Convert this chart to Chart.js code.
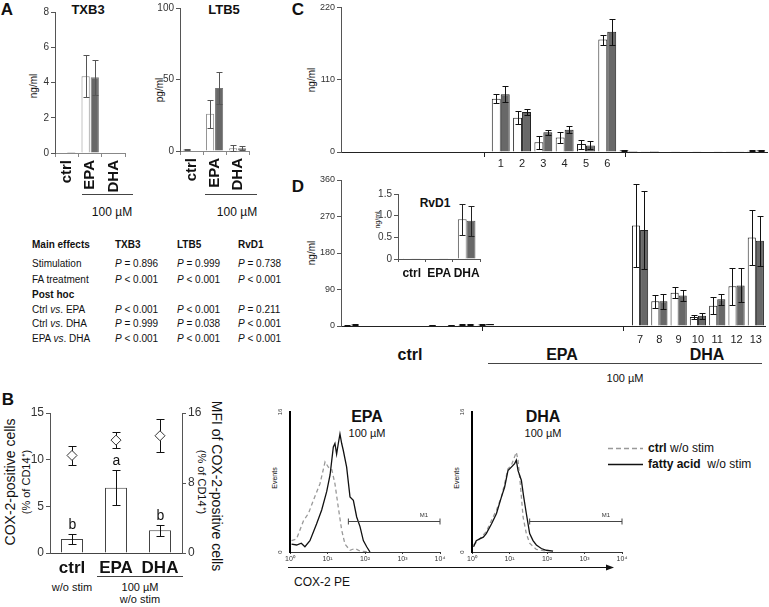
<!DOCTYPE html>
<html>
<head>
<meta charset="utf-8">
<script src="https://cdn.jsdelivr.net/npm/chart.js@4.4.1/dist/chart.umd.min.js"></script>
<style>
  body { margin: 0; background: #fff; font-family: "Liberation Sans", Arial, sans-serif; color: #111; }
  #page { position: relative; width: 769px; height: 607px; overflow: hidden; }
  .cv { position: absolute; }
  .t { position: absolute; white-space: nowrap; line-height: 1; transform: translate(-50%, -50%); }
  .l { position: absolute; white-space: nowrap; line-height: 1; transform: translate(0, -50%); }
  .up { transform: translate(-50%, -50%) rotate(-90deg); }
  .down { transform: translate(-50%, -50%) rotate(90deg); }
  .hl { position: absolute; height: 0; border-top: 1px solid #444; }
  .b { font-weight: bold; }
</style>
</head>
<body>
<div id="page">
  <!-- panel letters -->
  <div class="t b" style="left:7px;top:9px;font-size:17px">A</div>
  <div class="t b" style="left:8px;top:399px;font-size:17px">B</div>
  <div class="t b" style="left:298px;top:9px;font-size:17px">C</div>
  <div class="t b" style="left:298px;top:186px;font-size:17px">D</div>

  <!-- A -->
  <div class="t b" style="left:88px;top:9px;font-size:13px">TXB3</div>
  <div class="t b" style="left:224px;top:9px;font-size:13px">LTB5</div>
  <div class="t up" style="left:34px;top:86px;font-size:10px">ng/ml</div>
  <div class="t up" style="left:160px;top:90px;font-size:10px">pg/ml</div>
  <div class="hl" style="left:82px;top:194px;width:51px"></div>
  <div class="hl" style="left:205px;top:194px;width:52px"></div>
  <div class="t" style="left:112px;top:212px;font-size:12px">100 µM</div>
  <div class="t" style="left:237px;top:212px;font-size:12px">100 µM</div>
  <div id="table"></div>

  <!-- B -->
  <div class="t up" style="left:10px;top:482px;font-size:14px">COX-2-positive cells</div>
  <div class="t up" style="left:26px;top:482px;font-size:11px">(% of CD14⁺)</div>
  <div class="t down" style="left:217px;top:486px;font-size:14px">MFI of COX-2-positive cells</div>
  <div class="t down" style="left:201px;top:482px;font-size:11px">(% of CD14⁺)</div>
  <div class="hl" style="left:97px;top:576px;width:86px"></div>
  <div class="t" style="left:72px;top:587px;font-size:11px">w/o stim</div>
  <div class="t" style="left:140px;top:587px;font-size:11px">100 µM</div>
  <div class="t" style="left:140px;top:599px;font-size:11px">w/o stim</div>

  <!-- flow histograms -->
  <div class="t b" style="left:367px;top:417px;font-size:16px">EPA</div>
  <div class="t" style="left:367px;top:433px;font-size:11px">100 µM</div>
  <div class="t b" style="left:543px;top:417px;font-size:16px">DHA</div>
  <div class="t" style="left:543px;top:433px;font-size:11px">100 µM</div>
  <div class="t up" style="left:274px;top:478px;font-size:7px">Events</div>
  <div class="t up" style="left:456px;top:478px;font-size:7px">Events</div>
  <svg style="position:absolute;left:0;top:0" width="769" height="607">
    <line x1="288" y1="567.5" x2="608" y2="567.5" stroke="#111" stroke-width="1"/>
    <polygon points="614,567.5 606,564.5 606,570.5" fill="#111"/>
    <line x1="608" y1="448.5" x2="643" y2="448.5" stroke="#999" stroke-width="1.3" stroke-dasharray="5,3"/>
    <line x1="608" y1="464.5" x2="643" y2="464.5" stroke="#111" stroke-width="1.3"/>
  </svg>
  <div class="t" style="left:322px;top:582px;font-size:12px">COX-2 PE</div>
  <div class="l" style="left:648px;top:448px;font-size:12px"><span class="b">ctrl</span> w/o stim</div>
  <div class="l" style="left:648px;top:464px;font-size:12px"><span class="b">fatty acid</span>&nbsp; w/o stim</div>

  <!-- C / D -->
  <div class="t up" style="left:312px;top:80px;font-size:10px">ng/ml</div>
  <div class="t up" style="left:312px;top:253px;font-size:10px">ng/ml</div>
  <div class="t b" style="left:435px;top:203px;font-size:12px">RvD1</div>
  <div class="t up" style="left:377px;top:220px;font-size:7px">ng/ml</div>
  <div class="t b" style="left:410px;top:355px;font-size:16px">ctrl</div>
  <div class="t b" style="left:562px;top:355px;font-size:16px">EPA</div>
  <div class="t b" style="left:707px;top:355px;font-size:16px">DHA</div>
  <div class="hl" style="left:488px;top:363px;width:274px"></div>
  <div class="t" style="left:625px;top:378px;font-size:11px">100 µM</div>
</div>

<script>
var fontFamily = '"Liberation Sans", Arial, sans-serif';

// ---------- data ----------
// Panel A (white bars = w/o stim, grey bars = stim)
var aCats = ['ctrl', 'EPA', 'DHA'];
var txb3NoStim = [0, 4.35, 0.03];
var txb3NoStimErr = [0, 1.2, 0];
var txb3Stim = [0.05, 4.3, 0.03];
var txb3StimErr = [0, 1.0, 0];
var ltb5NoStim = [1, 26, 2];
var ltb5NoStimErr = [0.5, 10, 2];
var ltb5Stim = [0, 44, 2];
var ltb5StimErr = [0, 11, 1.5];

// ANOVA table
var tableHead = ['Main effects', 'TXB3', 'LTB5', 'RvD1'];
var tableRows = [
    ['Stimulation', '= 0.896', '= 0.999', '= 0.738'],
    ['FA treatment', '< 0.001', '< 0.001', '< 0.001'],
    ['Post hoc'],
    ['Ctrl <i>vs</i>. EPA', '< 0.001', '< 0.001', '= 0.211'],
    ['Ctrl <i>vs</i>. DHA', '= 0.999', '= 0.038', '< 0.001'],
    ['EPA <i>vs</i>. DHA', '< 0.001', '< 0.001', '< 0.001']
];

// Panel B
var bCats = ['ctrl', 'EPA', 'DHA'];
var coxPositive = [1.5, 7.0, 2.45];
var coxPositiveErr = [0.5, 1.9, 0.6];
var coxLetters = ['b', 'a', 'b'];
var coxMfi = [11.15, 12.9, 13.4];
var coxMfiErr = [1.1, 0.95, 1.9];

// Flow histograms: fluorescence (log) and events
var decadeLabels = ['10⁰', '10¹', '10²', '10³', '10⁴'];
var decades = [1, 10, 100, 1000, 10000];
var epaCtrlFl = [1.1, 1.5, 2.3, 3.1, 4.2, 6.3, 8.6, 10.5, 12.9, 15.8, 19.4, 23.9, 29.2, 39.8, 54, 74, 136];
var epaCtrlEv = [1.3, 1.5, 3.6, 4.4, 5.9, 7.8, 10.3, 9.7, 9.5, 7.8, 5.1, 2.5, 0.9, 0.2, 0.4, 0.1, 0];
var epaFaFl = [1.1, 1.5, 2.0, 2.5, 3.4, 5.1, 7.0, 9.5, 11.7, 14.3, 15.8, 17.5, 19.4, 21.5, 23.9, 26.4, 32.4, 39.8, 48.9, 60, 73.6, 90.3, 111, 136];
var epaFaEv = [0.9, 0.8, 1.0, 0.6, 1.3, 3.2, 4.8, 6.9, 8.8, 12.0, 12.4, 11.2, 12.4, 13.5, 12.4, 11.6, 9.7, 6.3, 5.9, 4.0, 2.9, 1.3, 0.6, 0];
var dhaCtrlFl = [1.1, 1.6, 2.4, 3.3, 4.5, 6.1, 7.4, 9.1, 11.2, 13.7, 15.2, 16.9, 19.4, 23.0, 28.1, 34.5, 52, 96];
var dhaCtrlEv = [0.8, 1.5, 2.3, 3.6, 4.8, 6.3, 7.8, 9.5, 9.9, 10.9, 11.4, 10.5, 7.8, 4.0, 2.1, 1.0, 0.3, 0.1];
var dhaFaFl = [1.1, 1.3, 1.6, 2.0, 2.4, 3.3, 4.5, 6.1, 7.4, 9.1, 11.2, 13.7, 15.2, 16.9, 20.7, 23.9, 28.1, 34.5, 42.4, 52, 70.6, 96, 145];
var dhaFaEv = [0.6, 1.3, 1.5, 1.7, 2.1, 3.2, 4.4, 6.3, 7.4, 9.3, 9.7, 10.1, 10.5, 9.3, 8.2, 6.3, 4.4, 2.1, 1.3, 0.8, 0.4, 0.2, 0.1];
var epaGate = 36;
var dhaGate = 34.5;
var gateEvents = 3.5;

// Panel C: ctrl slots 0-6, EPA slots 7-12 (mediators 1-6), DHA slots 13-19
var cLabels = ['', '', '', '', '', '', '', '1', '2', '3', '4', '5', '6', '', '', '', '', '', '', ''];
var cNoStim = [0, 0, 0, 0.6, 0, 0.8, 0, 81, 52, 15, 22, 12, 171, 2.5, 1, 0.8, 0.8, 0.6, 0.5, 2];
var cNoStimErr = [0, 0, 0, 0, 0, 0, 0, 7, 10, 10, 8, 7, 7.5, 0.5, 0, 0, 0, 0, 0, 0.5];
var cStim = [0, 0, 0, 0.6, 0, 0.8, 0, 88, 61, 30, 34, 10, 183, 1.5, 1.5, 1, 1, 1, 0.5, 2.5];
var cStimErr = [0, 0, 0, 0, 0, 0, 0, 12, 4, 4, 5, 6, 20, 0, 0, 0, 0, 0, 0, 0.5];

// Panel D: ctrl slots 0-6, EPA slots 7-14, DHA slots 15-21 (mediators 7-13)
var dLabels = ['', '', '', '', '', '', '', '', '', '', '', '', '', '', '', '7', '8', '9', '10', '11', '12', '13'];
var dNoStim = [2, 1, 1, 0, 1.5, 1.5, 3, 4, 0, 0, 0, 1, 1, 1, 0, 248, 61, 82, 22, 50, 98, 218];
var dNoStimErr = [1, 0, 0, 0, 0, 0, 1, 0.5, 0, 0, 0, 0, 0, 0, 0, 103, 16, 13, 4, 21, 45, 67];
var dStim = [4, 1, 1, 0, 2, 2, 4, 5, 0, 0, 0, 1, 1, 1, 0, 237, 61, 75, 25, 66, 100, 210];
var dStimErr = [1, 0, 0, 0, 0.5, 0.5, 1, 0.5, 0, 0, 0, 0, 0, 0, 0, 97, 19, 13, 8, 14, 42, 61];

// Inset RvD1
var rvd1Cats = ['ctrl', 'EPA', 'DHA'];
var rvd1NoStim = [0.02, 0.01, 0.92];
var rvd1NoStimErr = [0, 0, 0.36];
var rvd1Stim = [0.02, 0.02, 0.88];
var rvd1StimErr = [0, 0, 0.34];

// ---------- table ----------
var colX = [32, 115, 177, 238];
var rowY = [264, 280, 295, 310, 324, 339];
var tableHtml = '';
for (var h = 0; h < tableHead.length; h++) {
    tableHtml += '<div class="l b" style="left:' + colX[h] + 'px;top:245px;font-size:10px">' + tableHead[h] + '</div>';
}
for (var r = 0; r < tableRows.length; r++) {
    var row = tableRows[r];
    var bold = row.length == 1 ? ' b' : '';
    tableHtml += '<div class="l' + bold + '" style="left:32px;top:' + rowY[r] + 'px;font-size:10px">' + row[0] + '</div>';
    for (var c = 1; c < row.length; c++) {
        tableHtml += '<div class="l" style="left:' + colX[c] + 'px;top:' + rowY[r] + 'px;font-size:10px"><i>P</i> ' + row[c] + '</div>';
    }
}
document.getElementById('table').innerHTML = tableHtml;

// ---------- chart setup ----------
Chart.defaults.font.family = fontFamily;
Chart.defaults.color = '#222';
Chart.defaults.animation = false;
Chart.defaults.plugins.legend.display = false;
Chart.defaults.plugins.tooltip.enabled = false;

// Draws error bars from dataset.errors
function drawErrors(chart, index, behind) {
    var ds = chart.data.datasets[index];
    if (!ds.errors || !!ds.errorsBehind != behind) return;
    var meta = chart.getDatasetMeta(index);
    var yScale = chart.scales[meta.yAxisID];
    var ctx = chart.ctx;
    var cap = ds.capWidth || 3;
    ctx.save();
    ctx.strokeStyle = ds.errorColor || '#111';
    ctx.lineWidth = 1;
    meta.data.forEach(function(el, j) {
        var e = ds.errors[j];
        if (!e) return;
        var x = Math.round(el.x) + 0.5;
        var top = Math.round(yScale.getPixelForValue(ds.data[j] + e)) + 0.5;
        var bot = Math.round(yScale.getPixelForValue(Math.max(ds.data[j] - e, 0))) + 0.5;
        ctx.beginPath();
        ctx.moveTo(x, top); ctx.lineTo(x, bot);
        ctx.moveTo(x - cap, top); ctx.lineTo(x + cap, top);
        ctx.moveTo(x - cap, bot); ctx.lineTo(x + cap, bot);
        ctx.stroke();
        if (ds.letters) {
            ctx.fillStyle = '#111';
            ctx.font = '14px ' + fontFamily;
            ctx.textAlign = 'center';
            ctx.textBaseline = 'bottom';
            ctx.fillText(ds.letters[j], x, top - 2);
        }
    });
    ctx.restore();
}
var errorBars = {
    id: 'errorBars',
    beforeDatasetDraw: function(chart, args) { drawErrors(chart, args.index, true); },
    afterDatasetDraw: function(chart, args) { drawErrors(chart, args.index, false); }
};

// Small tick marks between treatment groups (C and D)
var groupTicks = {
    id: 'groupTicks',
    afterDraw: function(chart, args, opts) {
        if (!opts.at) return;
        var x = chart.scales.x, ctx = chart.ctx;
        ctx.save();
        ctx.strokeStyle = '#222';
        ctx.lineWidth = 1;
        opts.at.forEach(function(v) {
            var px = Math.round(x.getPixelForValue(v)) + 0.5;
            ctx.beginPath();
            ctx.moveTo(px, x.top);
            ctx.lineTo(px, x.top + 5);
            ctx.stroke();
        });
        ctx.restore();
    }
};

// Flow histogram decorations: rotated y labels and the M1 gate
var flowDecor = {
    id: 'flowDecor',
    afterDraw: function(chart, args, opts) {
        var ctx = chart.ctx, x = chart.scales.x, y = chart.scales.y;
        ctx.save();
        ctx.fillStyle = '#333';
        ctx.font = '6px ' + fontFamily;
        ctx.textAlign = 'center';
        ctx.textBaseline = 'middle';
        [0, 16].forEach(function(v) {
            ctx.save();
            ctx.translate(x.left - 10, y.getPixelForValue(v));
            ctx.rotate(-Math.PI / 2);
            ctx.fillText(String(v), 0, 0);
            ctx.restore();
        });
        var gy = Math.round(y.getPixelForValue(opts.events)) + 0.5;
        var gx0 = x.getPixelForValue(opts.from);
        var gx1 = x.getPixelForValue(opts.to);
        ctx.strokeStyle = '#444';
        ctx.lineWidth = 1;
        ctx.beginPath();
        ctx.moveTo(gx0, gy); ctx.lineTo(gx1, gy);
        ctx.moveTo(gx0, gy - 3); ctx.lineTo(gx0, gy + 3);
        ctx.moveTo(gx1, gy - 3); ctx.lineTo(gx1, gy + 3);
        ctx.stroke();
        ctx.fillText('M1', gx1 - 16, gy - 6);
        ctx.restore();
    }
};

function place(left, top, w, h) {
    var c = document.createElement('canvas');
    c.width = w;
    c.height = h;
    c.className = 'cv';
    c.style.left = left + 'px';
    c.style.top = top + 'px';
    document.getElementById('page').appendChild(c);
    return c;
}

function yAxis(max, step, width, size, extra) {
    var ax = {
        min: 0, max: max,
        ticks: { stepSize: step, font: { size: size }, padding: 2, color: '#333' },
        grid: { display: true, drawOnChartArea: false, drawTicks: true, tickLength: 4, color: '#555' },
        border: { color: '#555' },
        afterFit: function(s) { s.width = width; }
    };
    for (var k in extra) ax[k] = extra[k];
    return ax;
}

// Bar pair chart: white (w/o stim) and grey (stim) bars with error bars
function pairChart(canvas, labels, s1, e1, s2, e2, o) {
    return new Chart(canvas, {
        type: 'bar',
        data: {
            labels: labels,
            datasets: [
                { data: s1, errors: e1, backgroundColor: '#fff', borderColor: o.edge1, borderWidth: 1,
                  errorColor: o.errColor, capWidth: o.cap },
                { data: s2, errors: e2, backgroundColor: '#686868', borderColor: o.edge2, borderWidth: 1,
                  errorColor: o.errColor, capWidth: o.cap }
            ]
        },
        options: {
            responsive: false,
            datasets: { bar: { categoryPercentage: o.catPct, barPercentage: o.barPct } },
            layout: { padding: { top: o.padTop, right: 2, left: 0, bottom: 0 } },
            scales: {
                x: o.x,
                y: yAxis(o.max, o.step, o.yW, o.tickSize, o.y || {})
            },
            plugins: { groupTicks: { at: o.groupAt } }
        },
        plugins: [errorBars, groupTicks]
    });
}

// ---------- Panel A ----------
function aXAxis() {
    return {
        ticks: { font: { size: 15, weight: 'bold' }, color: '#111', minRotation: 90, maxRotation: 90, padding: 3, autoSkip: false },
        grid: { display: true, drawOnChartArea: false, drawTicks: true, tickLength: 4, offset: true, color: '#888' },
        border: { color: '#888' },
        afterFit: function(s) { s.height = 42; }
    };
}
pairChart(place(18, 0, 117, 195), aCats, txb3NoStim, txb3NoStimErr, txb3Stim, txb3StimErr, {
    edge1: '#8a8a8a', edge2: '#777', errColor: '#555', cap: 3, catPct: 0.78, barPct: 0.9,
    padTop: 12, max: 8, step: 2, yW: 37, tickSize: 10, x: aXAxis()
});
pairChart(place(143, 0, 116, 193), aCats, ltb5NoStim, ltb5NoStimErr, ltb5Stim, ltb5StimErr, {
    edge1: '#8a8a8a', edge2: '#777', errColor: '#555', cap: 3, catPct: 0.78, barPct: 0.9,
    padTop: 8, max: 100, step: 50, yW: 37, tickSize: 10, x: aXAxis()
});

// ---------- Panel C / D ----------
function cdXAxis(pad) {
    return {
        ticks: { font: { size: 11 }, color: '#222', autoSkip: false, maxRotation: 0, padding: pad },
        grid: { display: false, drawTicks: false },
        border: { color: '#222' },
        afterFit: function(s) { s.height = 20; }
    };
}
pairChart(place(290, 0, 479, 172), cLabels, cNoStim, cNoStimErr, cStim, cStimErr, {
    edge1: '#222', edge2: '#222', errColor: '#111', cap: 3, catPct: 0.84, barPct: 1,
    padTop: 7, max: 220, step: 110, yW: 51, tickSize: 9, x: cdXAxis(5), groupAt: [6.2, 12.85]
});
pairChart(place(290, 170, 479, 176), dLabels, dNoStim, dNoStimErr, dStim, dStimErr, {
    edge1: '#222', edge2: '#222', errColor: '#111', cap: 3, catPct: 0.84, barPct: 1,
    padTop: 10, max: 360, step: 90, yW: 51, tickSize: 9, x: cdXAxis(7), groupAt: [6.82, 14.1]
});
pairChart(place(360, 185, 124, 92), rvd1Cats, rvd1NoStim, rvd1NoStimErr, rvd1Stim, rvd1StimErr, {
    edge1: '#555', edge2: '#555', errColor: '#222', cap: 3, catPct: 0.64, barPct: 1,
    padTop: 9, max: 1.5, step: 0.5, yW: 38, tickSize: 10,
    y: { ticks: { stepSize: 0.5, font: { size: 10 }, padding: 2, color: '#333',
         callback: function(v) { return v == 0 ? '0' : v.toFixed(1); } } },
    x: {
        ticks: { font: { size: 12, weight: 'bold' }, color: '#111', maxRotation: 0, padding: 4, autoSkip: false },
        grid: { display: true, drawOnChartArea: false, drawTicks: true, tickLength: 3, offset: true, color: '#555' },
        border: { color: '#555' },
        afterFit: function(s) { s.height = 18; }
    }
});

// ---------- Panel B ----------
new Chart(place(0, 400, 204, 175), {
    type: 'bar',
    data: {
        labels: bCats,
        datasets: [
            { data: coxPositive, errors: coxPositiveErr, letters: coxLetters, backgroundColor: '#fff',
              borderColor: '#444', borderWidth: 1, errorColor: '#111', capWidth: 4, yAxisID: 'y' },
            { type: 'line', data: coxMfi, errors: coxMfiErr, errorsBehind: true, showLine: false,
              pointStyle: 'rectRot', pointRadius: 5, pointBackgroundColor: '#fff', pointBorderColor: '#333',
              pointBorderWidth: 1, errorColor: '#111', capWidth: 4, yAxisID: 'y1' }
        ]
    },
    options: {
        responsive: false,
        datasets: { bar: { categoryPercentage: 0.5, barPercentage: 1 } },
        layout: { padding: { top: 13, right: 2, left: 0, bottom: 0 } },
        scales: {
            x: {
                ticks: { font: { size: 17, weight: 'bold' }, color: '#111', maxRotation: 0, padding: 5, autoSkip: false },
                grid: { display: false, drawTicks: false },
                border: { color: '#444' },
                afterFit: function(s) { s.height = 22; }
            },
            y: yAxis(15, 5, 50, 12, {}),
            y1: yAxis(16, 8, 20, 12, { position: 'right' })
        }
    },
    plugins: [errorBars]
});

// ---------- Flow histograms ----------
function points(xs, ys) {
    return xs.map(function(v, i) { return { x: v, y: ys[i] }; });
}
function flowChart(canvas, ctrlFl, ctrlEv, faFl, faEv, gateFrom) {
    return new Chart(canvas, {
        type: 'line',
        data: {
            datasets: [
                { data: points(faFl, faEv), borderColor: '#111', borderWidth: 1.3, pointRadius: 0, tension: 0 },
                { data: points(ctrlFl, ctrlEv), borderColor: '#999', borderWidth: 1.3, borderDash: [4, 3],
                  pointRadius: 0, tension: 0 }
            ]
        },
        options: {
            responsive: false,
            layout: { padding: { top: 12, right: 10, left: 0, bottom: 0 } },
            scales: {
                x: {
                    type: 'logarithmic', min: 1, max: 10000,
                    afterBuildTicks: function(s) { s.ticks = decades.map(function(v) { return { value: v }; }); },
                    ticks: { font: { size: 7 }, color: '#333', padding: 1, maxRotation: 0, autoSkip: false,
                             callback: function(v, i) { return decadeLabels[i]; } },
                    grid: { display: true, drawOnChartArea: false, drawTicks: true, tickLength: 2, color: '#333' },
                    border: { color: '#333' },
                    afterFit: function(s) { s.height = 14; }
                },
                y: {
                    min: 0, max: 16,
                    ticks: { display: false },
                    grid: { display: false },
                    border: { color: '#000', width: 2 },
                    afterFit: function(s) { s.width = 20; }
                }
            },
            plugins: { flowDecor: { from: gateFrom, to: 10000, events: gateEvents } }
        },
        plugins: [flowDecor]
    });
}
flowChart(place(270, 400, 180, 166), epaCtrlFl, epaCtrlEv, epaFaFl, epaFaEv, epaGate);
flowChart(place(452, 400, 180, 166), dhaCtrlFl, dhaCtrlEv, dhaFaFl, dhaFaEv, dhaGate);
</script>
</body>
</html>
